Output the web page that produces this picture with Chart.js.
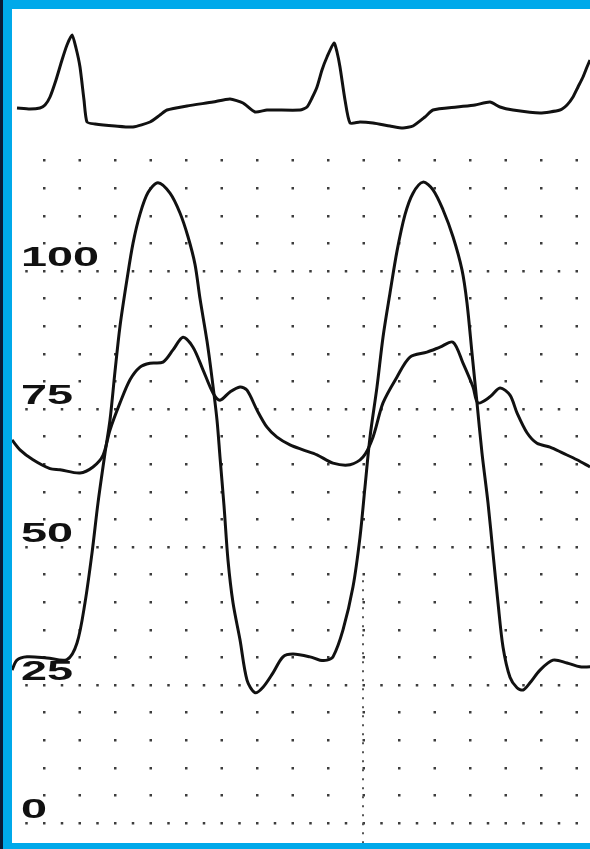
<!DOCTYPE html>
<html>
<head>
<meta charset="utf-8">
<script src="https://cdn.jsdelivr.net/npm/chart.js@4/dist/chart.umd.min.js"></script>
<style>
  html, body { margin: 0; padding: 0; background: #fff; }
</style>
</head>
<body>
<canvas id="myChart" width="590" height="849"></canvas>
<script>
// time axis (chart units), pressures in mmHg, ECG in mV
const ecgTime = [17, 30, 40, 45, 50, 56, 62, 67, 72, 76, 80, 84, 87, 95, 115, 133, 150, 160, 167, 187, 213, 230, 243, 255, 267, 300,
  307, 312, 317, 322, 327, 334, 337, 340, 345, 350, 360, 373, 390, 403, 413, 425, 433, 457, 475, 490, 500, 513, 540, 560,
  567, 573, 578, 583, 587, 590];
const ecgMv = [0.04, 0.02, 0.04, 0.1, 0.26, 0.6, 1.0, 1.3, 1.5, 1.24, 0.86, 0.2, -0.24, -0.28, -0.32, -0.34, -0.24, -0.1, 0.0, 0.08, 0.16, 0.22, 0.14, -0.04, 0.0, 0.0,
  0.06, 0.24, 0.46, 0.8, 1.06, 1.34, 1.16, 0.86, 0.2, -0.26, -0.24, -0.26, -0.32, -0.36, -0.32, -0.14, 0.0, 0.06, 0.1, 0.16, 0.06, 0.0, -0.06, 0.0,
  0.1, 0.26, 0.46, 0.66, 0.86, 1.0];

const lvTime = [12, 17, 27, 47, 67, 77, 85, 92, 98, 105,
  110, 115, 120, 127, 133, 140, 148, 158, 170, 180,
  188, 195, 200, 207, 212, 217, 220, 224, 228, 233,
  240, 247, 255, 263, 273, 283, 293, 310, 320, 327,
  333, 343, 353, 360, 365, 370, 377, 383, 390, 397,
  405, 413, 423, 433, 443, 453, 462, 467, 472, 477,
  482, 488, 493, 498, 503, 510, 517, 523, 530, 540,
  553, 567, 580, 590];
const lvPressure = [27.7, 29.5, 30.1, 29.9, 29.6, 32.6, 39.9, 48.9, 58.0, 67.0,
  73.0, 81.8, 90.0, 98.5, 105.0, 110.3, 114.2, 116.0, 114.1, 110.5,
  106.2, 101.2, 95.0, 87.3, 80.6, 73.0, 66.3, 57.5, 47.6, 39.9,
  33.2, 25.9, 23.6, 24.6, 27.2, 30.1, 30.6, 30.1, 29.5, 29.5,
  30.1, 35.0, 42.8, 51.8, 60.9, 69.9, 79.0, 88.0, 96.0, 103.6,
  110.2, 114.1, 116.1, 114.7, 111.1, 106.2, 100.2, 94.2, 85.1, 76.1,
  67.0, 58.0, 48.9, 39.9, 31.9, 26.4, 24.5, 24.1, 25.4, 27.7,
  29.5, 29.0, 28.3, 28.3];

const aoTime = [12, 20, 33, 50, 60, 80, 93, 103, 110, 120,
  130, 140, 150, 163, 173, 183, 193, 203, 213, 220,
  230, 240, 247, 257, 267, 277, 290, 303, 317, 333,
  350, 363, 373, 383, 397, 410, 427, 440, 453, 463,
  473, 478, 490, 500, 510, 517, 527, 537, 550, 563,
  577, 590];
const aoPressure = [69.4, 67.6, 65.8, 64.2, 64.0, 63.4, 64.5, 66.6, 71.2, 76.1,
  80.3, 82.6, 83.3, 83.5, 85.7, 88.0, 86.2, 82.1, 77.9, 76.6,
  78.1, 79.0, 78.4, 74.8, 71.7, 69.9, 68.5, 67.6, 66.7, 65.2,
  64.9, 66.3, 69.9, 76.1, 80.8, 84.4, 85.3, 86.2, 87.1, 83.3,
  79.0, 76.1, 77.2, 78.8, 77.5, 74.3, 70.7, 68.8, 68.1, 67.0,
  65.8, 64.5];

const yTickValues = [0, 25, 50, 75, 100];
const yTickLabels = ['0', '25', '50', '75', '100'];

// dotted time marker on the paper (lower part only)
const markerTime = 363;
const markerFromValue = 44;

function toPoints(xs, ys) {
  return xs.map((x, i) => ({ x: x, y: ys[i] }));
}

// blue frame around the paper
const framePlugin = {
  id: 'frame',
  beforeDraw(chart) {
    const ctx = chart.ctx;
    const a = chart.chartArea;
    ctx.save();
    ctx.fillStyle = '#00a9ea';
    ctx.fillRect(0, 0, chart.width, chart.height);
    ctx.fillStyle = '#0b1a35';
    ctx.fillRect(0, 0, 3, chart.height);
    ctx.fillStyle = '#ffffff';
    ctx.fillRect(a.left, a.top, a.right - a.left, a.bottom - a.top);
    ctx.restore();
  },
  beforeDatasetsDraw(chart) {
    const ctx = chart.ctx;
    const px = Math.round(chart.scales.x.getPixelForValue(markerTime));
    ctx.save();
    ctx.strokeStyle = '#555';
    ctx.lineWidth = 2;
    ctx.setLineDash([2, 7]);
    ctx.beginPath();
    ctx.moveTo(px, chart.scales.y.getPixelForValue(markerFromValue));
    ctx.lineTo(px, chart.chartArea.bottom);
    ctx.stroke();
    ctx.restore();
  }
};

// wide bold tick numbers written inside the paper
const labelPlugin = {
  id: 'stretchedLabels',
  afterDatasetsDraw(chart) {
    const ctx = chart.ctx;
    const y = chart.scales.y;
    ctx.save();
    ctx.fillStyle = '#111';
    ctx.font = 'bold 28px "Liberation Sans", Arial, sans-serif';
    ctx.textBaseline = 'alphabetic';
    yTickValues.forEach((v, i) => {
      ctx.save();
      ctx.translate(chart.chartArea.left + 9, y.getPixelForValue(v) - 5);
      ctx.scale(1.67, 1);
      ctx.fillText(yTickLabels[i], 0, 0);
      ctx.restore();
    });
    ctx.restore();
  }
};

function onRow(v) {
  return v >= 0 && v <= 120 && Math.abs(v / 5 - Math.round(v / 5)) < 1e-6;
}

const data = {
  datasets: [
    {
      label: 'ECG',
      data: toPoints(ecgTime, ecgMv),
      yAxisID: 'ecg',
      borderColor: '#111',
      borderWidth: 3,
      tension: 0.2
    },
    {
      label: 'LV pressure',
      data: toPoints(lvTime, lvPressure),
      yAxisID: 'y',
      borderColor: '#111',
      borderWidth: 3,
      tension: 0.3
    },
    {
      label: 'Aortic pressure',
      data: toPoints(aoTime, aoPressure),
      yAxisID: 'y',
      borderColor: '#111',
      borderWidth: 3,
      tension: 0.3
    }
  ]
};

const config = {
  type: 'line',
  data: data,
  options: {
    responsive: false,
    animation: false,
    events: [],
    layout: { padding: { left: 12, top: 9, right: 0, bottom: 6 } },
    elements: { point: { radius: 0 } },
    plugins: { legend: { display: false }, tooltip: { enabled: false } },
    scales: {
      x: { type: 'linear', min: 12, max: 590, display: false },
      y: {
        type: 'linear',
        position: 'left',
        min: -3.62,
        max: 147.46,
        ticks: { display: false, stepSize: 5, autoSkip: false },
        grid: {
          drawTicks: false,
          lineWidth: 2.5,
          color: (c) => (c.tick && onRow(c.tick.value)) ? '#3c3c3c' : 'rgba(0,0,0,0)'
        },
        border: {
          display: false,
          dash: (c) => {
            if (!c.tick) return [];
            return (c.tick.value % 25 === 0) ? [2.5, 15.25] : [2.5, 33];
          },
          dashOffset: 4.5
        }
      },
      ecg: { type: 'linear', display: false, min: -14.66, max: 2.02 }
    }
  },
  plugins: [framePlugin, labelPlugin]
};

const myChart = new Chart(document.getElementById('myChart'), config);
</script>
</body>
</html>
